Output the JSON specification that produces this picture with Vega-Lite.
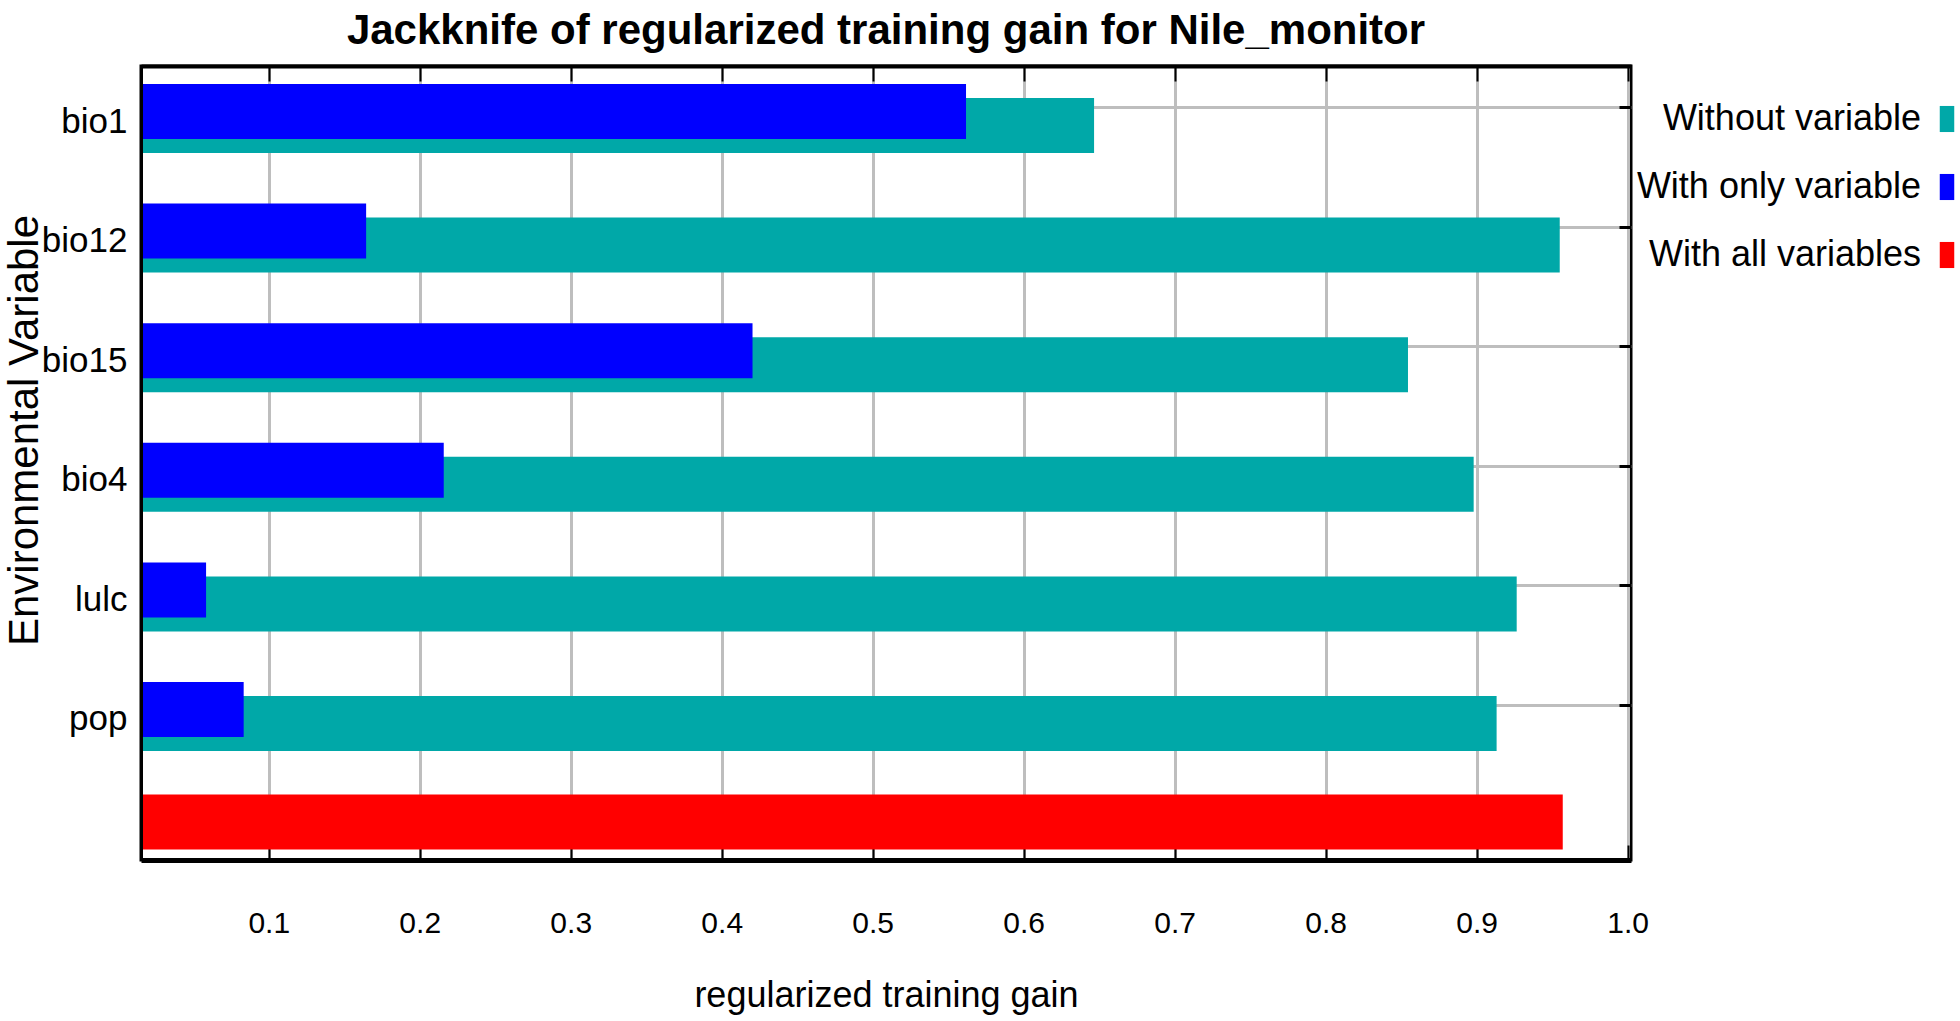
{
  "$schema": "https://vega.github.io/schema/vega-lite/v6.json",
  "autosize": {"type": "none"},
  "width": 1490,
  "height": 794,
  "padding": {"left": 141, "top": 66, "right": 329, "bottom": 161},
  "background": "white",
  "title": {
    "text": "Jackknife of regularized training gain for Nile_monitor",
    "font": "Liberation Sans",
    "fontSize": 42,
    "fontWeight": "bold",
    "color": "black",
    "offset": 12
  },
  "config": {
    "view": {"stroke": "black", "strokeWidth": 3},
    "font": "Liberation Sans"
  },
  "data": {
    "values": [
      {"variable": "bio1", "series": "Without variable", "value": 0.6466},
      {"variable": "bio12", "series": "Without variable", "value": 0.955},
      {"variable": "bio15", "series": "Without variable", "value": 0.8545},
      {"variable": "bio4", "series": "Without variable", "value": 0.898},
      {"variable": "lulc", "series": "Without variable", "value": 0.9265},
      {"variable": "pop", "series": "Without variable", "value": 0.9132},
      {"variable": "bio1", "series": "With only variable", "value": 0.5618},
      {"variable": "bio12", "series": "With only variable", "value": 0.1645},
      {"variable": "bio15", "series": "With only variable", "value": 0.4204},
      {"variable": "bio4", "series": "With only variable", "value": 0.2159},
      {"variable": "lulc", "series": "With only variable", "value": 0.0585},
      {"variable": "pop", "series": "With only variable", "value": 0.0834},
      {"variable": "All", "series": "With all variables", "value": 0.957}
    ]
  },
  "resolve": {"axis": {"x": "independent", "y": "independent"}},
  "layer": [
    {
      "transform": [{"filter": "datum.series == 'Without variable'"}],
      "mark": {"type": "bar", "height": 55, "yOffset": 7, "clip": true},
      "encoding": {
        "x": {
          "field": "value", "type": "quantitative",
          "scale": {"domain": [0.0154, 1.0022], "zero": false, "nice": false},
          "axis": {
            "orient": "bottom",
            "values": [0.1, 0.2, 0.3, 0.4, 0.5, 0.6, 0.7, 0.8, 0.9, 1.0],
            "format": ".1f",
            "grid": true, "gridColor": "#BEBEBE", "gridWidth": 3,
            "tickSize": -15, "tickColor": "black", "tickWidth": 2,
            "domain": true, "domainColor": "black", "domainWidth": 5,
            "labelFont": "Liberation Sans", "labelFontSize": 30, "labelColor": "black", "labelPadding": 63, "labelFlush": false,
            "title": "regularized training gain",
            "titleFont": "Liberation Sans", "titleFontSize": 36, "titleFontWeight": "normal", "titleColor": "black", "titlePadding": 40
          }
        },
        "y": {
          "field": "variable", "type": "nominal",
          "scale": {"type": "band", "domain": ["bio1", "bio12", "bio15", "bio4", "lulc", "pop", "All"], "paddingInner": 0.6, "paddingOuter": 0.1196, "align": 1},
          "axis": {
            "orient": "left",
            "values": ["bio1", "bio12", "bio15", "bio4", "lulc", "pop"],
            "labelOffset": 3, "ticks": false, "grid": false,
            "domain": true, "domainColor": "black", "domainWidth": 3,
            "labelFont": "Liberation Sans", "labelFontSize": 35, "labelColor": "black", "labelPadding": 14,
            "title": "Environmental Variable",
            "titleFont": "Liberation Sans", "titleFontSize": 42, "titleFontWeight": "normal", "titleColor": "black",
            "titleX": -117, "titleY": 364, "titleAngle": 270, "titleAlign": "center", "titleBaseline": "middle",
            "zindex": 1
          }
        },
        "color": {
          "field": "series", "type": "nominal",
          "scale": {"domain": ["Without variable", "With only variable", "With all variables"], "range": ["#00A8A8", "#0000FF", "#FF0000"]},
          "legend": {
            "orient": "none", "legendX": 1788, "legendY": 35, "title": null,
            "symbolType": "M-1,-1.8H1V1.8H-1Z", "symbolSize": 210, "symbolStrokeWidth": 0, "symbolOpacity": 1,
            "labelAlign": "right", "labelOffset": -44, "labelFont": "Liberation Sans", "labelFontSize": 36, "labelColor": "black", "labelLimit": 500,
            "rowPadding": 32
          }
        }
      }
    },
    {
      "transform": [{"filter": "datum.series == 'With only variable'"}],
      "mark": {"type": "bar", "height": 55, "yOffset": -7, "clip": true},
      "encoding": {
        "x": {"field": "value", "type": "quantitative", "scale": {"domain": [0.0154, 1.0022], "zero": false, "nice": false}, "axis": null},
        "y": {
          "field": "variable", "type": "nominal",
          "axis": {
            "orient": "right",
            "values": ["bio1", "bio12", "bio15", "bio4", "lulc", "pop"],
            "bandPosition": 0.27, "labels": false,
            "grid": true, "gridColor": "#BEBEBE", "gridWidth": 3,
            "tickSize": -12, "tickColor": "black", "tickWidth": 3,
            "domain": false, "title": null
          }
        },
        "color": {"field": "series", "type": "nominal"}
      }
    },
    {
      "transform": [{"filter": "datum.series == 'With all variables'"}],
      "mark": {"type": "bar", "height": 55, "yOffset": -14, "clip": true},
      "encoding": {
        "x": {
          "field": "value", "type": "quantitative",
          "scale": {"domain": [0.0154, 1.0022], "zero": false, "nice": false},
          "axis": {
            "orient": "top",
            "values": [0.1, 0.2, 0.3, 0.4, 0.5, 0.6, 0.7, 0.8, 0.9, 1.0],
            "labels": false, "grid": false,
            "tickSize": -15, "tickColor": "black", "tickWidth": 2,
            "domain": true, "domainColor": "black", "domainWidth": 4,
            "title": null, "zindex": 1
          }
        },
        "y": {"field": "variable", "type": "nominal", "axis": null},
        "color": {"field": "series", "type": "nominal"}
      }
    }
  ]
}
